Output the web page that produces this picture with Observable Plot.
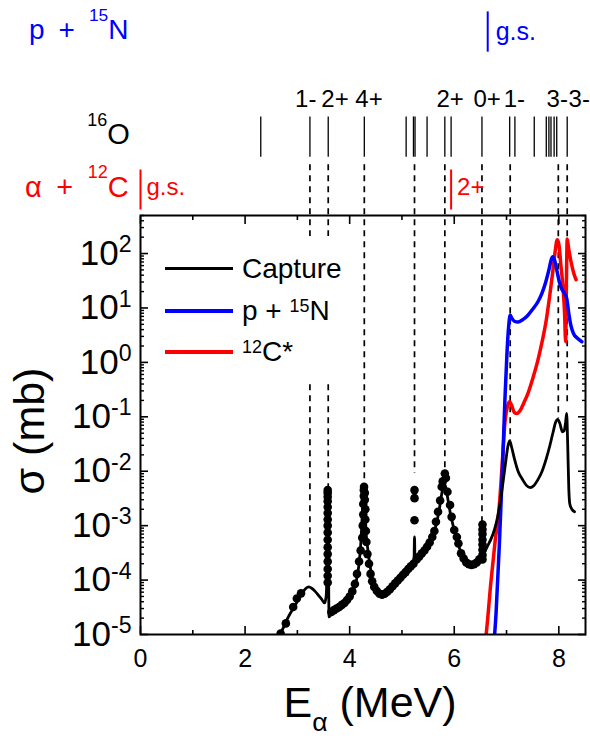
<!DOCTYPE html>
<html>
<head>
<meta charset="utf-8">
<script src="https://cdn.jsdelivr.net/npm/d3@7"></script>
<script src="https://cdn.jsdelivr.net/npm/@observablehq/plot@0.6"></script>
<style>
  body { margin: 0; background: #fff; }
  #wrap { position: relative; width: 590px; height: 751px; font-family: "Liberation Sans", Arial, Helvetica, sans-serif; }
  #wrap svg { display: block; }
  #legend { position: absolute; left: 150px; top: 236px; width: 190px; height: 148px; background: #fff; }
  #legend .sample { position: absolute; left: 15px; width: 68px; }
  #legend .lab { position: absolute; left: 92px; font-size: 28px; line-height: 28px; white-space: nowrap; color: #000; }
  #legend .sup { font-size: 0.64em; vertical-align: 0.42em; line-height: 0; }
</style>
</head>
<body>
<div id="wrap">
  <div id="legend">
    <div class="sample" style="top:31px;height:2.5px;background:#000"></div>
    <div class="lab" style="top:19px">Capture</div>
    <div class="sample" style="top:73px;height:3.5px;background:#0000ff"></div>
    <div class="lab" style="top:61px">p + <span class="sup">15</span>N</div>
    <div class="sample" style="top:114px;height:3.5px;background:#ff0000"></div>
    <div class="lab" style="top:102px"><span class="sup">12</span>C*</div>
  </div>
</div>
<script>
// ---------------- data ----------------
// E_alpha (MeV), sigma (mb)
const captureLine = [
  [2.60, 8e-6], [2.70, 1.15e-5], [2.78, 1.7e-5], [2.86, 2.4e-5], [2.94, 3.2e-5],
  [3.02, 4.4e-5], [3.08, 5.4e-5], [3.16, 7.0e-5], [3.22, 7.5e-5], [3.28, 7.0e-5],
  [3.34, 6.2e-5], [3.40, 5.3e-5], [3.46, 4.5e-5], [3.52, 3.8e-5], [3.55, 5e-5],
  [3.57, 3e-4], [3.58, 4.5e-3], [3.595, 3e-4], [3.605, 2.1e-5], [3.65, 2.4e-5],
  [3.72, 2.7e-5], [3.80, 3.1e-5], [3.88, 3.5e-5], [3.96, 4.2e-5], [4.02, 5e-5],
  [4.08, 7e-5], [4.13, 1.0e-4], [4.18, 2.0e-4], [4.22, 6e-4], [4.25, 2.5e-3],
  [4.27, 5.0e-3], [4.29, 3e-3], [4.31, 9e-4], [4.35, 3.5e-4], [4.40, 1.6e-4],
  [4.45, 9e-5], [4.52, 6.3e-5], [4.60, 5.3e-5], [4.70, 5.8e-5], [4.80, 7.5e-5],
  [4.90, 9.5e-5], [5.00, 1.2e-4], [5.10, 1.5e-4], [5.20, 1.9e-4], [5.23, 2.1e-4],
  [5.24, 6.2e-4], [5.25, 2.2e-4], [5.30, 2.4e-4], [5.40, 3.2e-4], [5.50, 4.5e-4],
  [5.58, 6.3e-4], [5.65, 1.0e-3], [5.71, 1.9e-3], [5.76, 3.8e-3], [5.80, 6.0e-3],
  [5.84, 5.0e-3], [5.88, 3.0e-3], [5.93, 1.6e-3], [6.00, 8.3e-4], [6.06, 5.2e-4],
  [6.12, 3.4e-4], [6.19, 2.4e-4], [6.26, 2.0e-4], [6.33, 1.9e-4], [6.40, 2.0e-4],
  [6.46, 2.3e-4], [6.52, 2.8e-4], [6.58, 3.3e-4], [6.64, 4.3e-4], [6.70, 5.6e-4],
  [6.77, 8.5e-4], [6.83, 1.45e-3], [6.88, 2.8e-3], [6.93, 6e-3], [6.98, 1.4e-2],
  [7.03, 3.0e-2], [7.06, 3.6e-2], [7.10, 2.7e-2], [7.15, 1.7e-2], [7.22, 1.0e-2],
  [7.30, 7.2e-3], [7.38, 5.5e-3], [7.45, 5.0e-3], [7.52, 5.4e-3], [7.60, 7.0e-3],
  [7.68, 1.0e-2], [7.76, 1.7e-2], [7.83, 3.0e-2], [7.89, 5.2e-2], [7.94, 8.0e-2],
  [7.98, 9.0e-2], [8.02, 7.5e-2], [8.07, 5.3e-2], [8.10, 5.5e-2], [8.13, 8e-2],
  [8.15, 1.15e-1], [8.17, 3e-2], [8.19, 5e-3], [8.21, 2.5e-3], [8.25, 2.0e-3],
  [8.30, 1.8e-3]
];
const captureData = [
  [2.68, 1.04e-5], [2.78, 1.6e-5], [2.92, 3.2e-5], [2.99, 4.6e-5], [3.07, 5.7e-5],
  [3.58, 9e-5], [3.58, 1.2e-4], [3.58, 1.6e-4], [3.58, 2.2e-4], [3.58, 3.0e-4],
  [3.58, 4.0e-4], [3.58, 5.5e-4], [3.58, 7.5e-4], [3.58, 1.0e-3], [3.58, 1.3e-3],
  [3.58, 1.7e-3], [3.58, 2.2e-3], [3.58, 2.8e-3], [3.58, 3.4e-3], [3.58, 4.0e-3],
  [3.58, 4.5e-3],
  [3.65, 2.6e-5], [3.70, 2.8e-5], [3.75, 3.0e-5], [3.80, 3.2e-5], [3.85, 3.5e-5],
  [3.90, 3.8e-5], [3.95, 4.3e-5], [4.00, 5.0e-5], [4.05, 6.2e-5], [4.10, 8.5e-5],
  [4.14, 1.3e-4], [4.18, 2.2e-4], [4.21, 3.5e-4],
  [4.24, 6e-4], [4.25, 1e-3], [4.26, 1.6e-3], [4.26, 2.5e-3], [4.27, 3.5e-3],
  [4.27, 4.5e-3], [4.275, 5.2e-3], [4.29, 4e-3], [4.29, 3e-3], [4.30, 2e-3],
  [4.30, 1.3e-3], [4.31, 8e-4], [4.32, 5e-4], [4.34, 3e-4],
  [4.37, 2e-4], [4.40, 1.3e-4], [4.43, 9.5e-5], [4.47, 7.5e-5], [4.52, 6.3e-5],
  [4.57, 5.6e-5], [4.62, 5.4e-5], [4.67, 5.6e-5], [4.72, 6.1e-5], [4.77, 6.8e-5],
  [4.82, 7.7e-5], [4.87, 8.7e-5], [4.92, 9.8e-5], [4.97, 1.1e-4], [5.02, 1.25e-4],
  [5.07, 1.4e-4], [5.12, 1.6e-4], [5.17, 1.8e-4], [5.22, 2.0e-4],
  [5.24, 4.5e-3], [5.24, 3.2e-3], [5.24, 1.26e-3],
  [5.28, 2.4e-4], [5.33, 2.7e-4], [5.38, 3.1e-4], [5.43, 3.5e-4], [5.48, 4.1e-4],
  [5.53, 4.9e-4], [5.58, 6.2e-4], [5.62, 8e-4], [5.65, 1.18e-3], [5.69, 1.8e-3],
  [5.73, 2.9e-3], [5.76, 5.2e-3], [5.78, 6.5e-3], [5.82, 9.1e-3], [5.84, 7.5e-3],
  [5.87, 4.2e-3], [5.92, 2.4e-3], [5.95, 1.45e-3], [6.00, 8.3e-4], [6.05, 6.2e-4],
  [6.08, 4.7e-4], [6.13, 3.1e-4], [6.18, 2.5e-4], [6.23, 2.1e-4], [6.28, 1.95e-4],
  [6.33, 1.9e-4], [6.38, 1.95e-4], [6.43, 2.1e-4], [6.48, 2.4e-4],
  [6.54, 1.05e-3], [6.54, 8.5e-4], [6.54, 7e-4], [6.54, 5.5e-4], [6.54, 4.5e-4],
  [6.54, 3.6e-4], [6.54, 2.9e-4], [6.54, 2.4e-4]
];
const protonLine = [
  [6.755, 6e-6], [6.80, 2.5e-5], [6.86, 4e-4], [6.92, 1.0e-2], [6.97, 0.22],
  [7.01, 1.6], [7.04, 4.5], [7.07, 7.4], [7.10, 6.5], [7.15, 5.7], [7.22, 5.5],
  [7.30, 6.0], [7.40, 7.2], [7.50, 9.5], [7.60, 13], [7.68, 19], [7.75, 30],
  [7.81, 50], [7.86, 80], [7.88, 87], [7.92, 75], [7.97, 45], [8.01, 30],
  [8.05, 23], [8.10, 19], [8.15, 15], [8.19, 8], [8.23, 4.8], [8.28, 3.4],
  [8.35, 2.8], [8.44, 2.4]
];
const carbonLine = [
  [6.59, 7e-6], [6.61, 1e-5], [6.70, 9e-5], [6.78, 5e-4], [6.86, 2.2e-3],
  [6.92, 1.5e-2], [6.97, 8e-2], [7.02, 0.16], [7.06, 0.19], [7.10, 0.16],
  [7.15, 0.12], [7.20, 0.115], [7.26, 0.13], [7.33, 0.18], [7.41, 0.27],
  [7.50, 0.5], [7.60, 1.1], [7.68, 2.4], [7.76, 6], [7.83, 18], [7.88, 43],
  [7.93, 110], [7.97, 180], [8.00, 150], [8.04, 60], [8.08, 24], [8.11, 8],
  [8.13, 2.4], [8.145, 30], [8.16, 185], [8.19, 120], [8.24, 66], [8.29, 42],
  [8.33, 33]
];
// 16O levels (as E_alpha)
const levels16O = [2.30, 3.24, 3.59, 4.28, 5.08, 5.22, 5.25, 5.48, 5.82, 5.94,
  6.53, 7.06, 7.16, 7.53, 7.76, 7.81, 7.85, 7.91, 7.96, 8.16];
const levelLabels = ["1-", "2+", "4+", "2+", "0+", "1-", "3-", "3-"];
const levelLabelE = [3.16, 3.72, 4.37, 5.92, 6.63, 7.15, 7.97, 8.39];
// resonances marked by dashed lines and where they end on the capture curve
const resonanceE = [3.24, 3.59, 4.28, 5.24, 5.82, 6.53, 7.07, 7.99, 8.16];
const resonanceTop = [1.0e-4, 4.5e-3, 5.8e-3, 9.2e-3, 1.12e-2, 1.11e-3, 3.7e-2, 9.4e-2, 0.153];
// thresholds
const alphaThresholdE = [0, 5.94];
const alphaThresholdLabel = ["g.s.", "2+"];
const protonThresholdE = [6.64];
const protonThresholdLabel = ["g.s."];
// axis ticks
const xMajor = [0, 2, 4, 6, 8];
const xMinor = [1, 3, 5, 7];
const yDecades = [1e-5, 1e-4, 1e-3, 1e-2, 1e-1, 1e0, 1e1, 1e2];
const yMinor = yDecades.flatMap(d => [2, 3, 4, 5, 6, 7, 8, 9].map(k => d * k)).filter(v => v <= 500);

// ---------------- level-scheme rows (log scale extended above the frame) ----------------
const row = {
  pTop: 10 ** 6.44, pBot: 10 ** 5.70, pText: 10 ** 6.10, pLab: 10 ** 6.07,
  oLab: 10 ** 4.84, oTop: 10 ** 4.51, oBot: 10 ** 3.77, oText: 10 ** 4.18,
  dashTop: 10 ** 3.63, aTop: 10 ** 3.535, aBot: 10 ** 2.80, aText: 10 ** 3.21
};

const font = '"Liberation Sans", Arial, Helvetica, sans-serif';
const sp = "\u2002";

const chart = Plot.plot({
  width: 590,
  height: 751,
  marginLeft: 140,
  marginRight: 5,
  marginTop: 215,
  marginBottom: 117,
  style: { fontFamily: font, background: "white", color: "black", overflow: "visible" },
  x: { domain: [0, 8.51] },
  y: { type: "log", domain: [1e-5, 500] },
  marks: [
    // dashed resonance lines
    Plot.ruleX(resonanceE, { x: d => d, y1: row.dashTop, y2: (d, i) => resonanceTop[i],
      stroke: "black", strokeWidth: 1.7, strokeDasharray: "6,5" }),
    // 16O levels
    Plot.ruleX(levels16O, { x: d => d, y1: row.oTop, y2: row.oBot, stroke: "black", strokeWidth: 1.3 }),
    // alpha + 12C thresholds
    Plot.ruleX(alphaThresholdE, { x: d => d, y1: row.aTop, y2: row.aBot, stroke: "red", strokeWidth: 2 }),
    Plot.text(alphaThresholdLabel, { x: (d, i) => alphaThresholdE[i], y: row.aText, text: d => d,
      dx: 6, textAnchor: "start", fill: "red", fontSize: 24 }),
    // p + 15N threshold
    Plot.ruleX(protonThresholdE, { x: d => d, y1: row.pTop, y2: row.pBot, stroke: "blue", strokeWidth: 2 }),
    Plot.text(protonThresholdLabel, { x: (d, i) => protonThresholdE[i], y: row.pLab, text: d => d,
      dx: 8, textAnchor: "start", fill: "blue", fontSize: 25 }),
    // level labels
    Plot.text(levelLabels, { x: (d, i) => levelLabelE[i], y: row.oLab, text: d => d,
      fontSize: 24, fill: "black" }),
    // channel labels
    Plot.text([`p${sp}+${sp}^^{15}N`], { x: -0.23, y: row.pText, text: d => d, textAnchor: "end", fill: "blue", fontSize: 28 }),
    Plot.text(["^^{16}O"], { x: -0.205, y: row.oText, text: d => d, textAnchor: "end", fill: "black", fontSize: 29 }),
    Plot.text([`\u03b1${sp}+${sp}^^{12}C`], { x: -0.225, y: row.aText, text: d => d, textAnchor: "end", fill: "red", fontSize: 29 }),
    // curves
    Plot.line(carbonLine, { x: d => d[0], y: d => d[1], stroke: "red", strokeWidth: 3.5, curve: "monotone-x", clip: true }),
    Plot.line(protonLine, { x: d => d[0], y: d => d[1], stroke: "blue", strokeWidth: 3.5, curve: "monotone-x", clip: true }),
    Plot.line(captureLine, { x: d => d[0], y: d => d[1], stroke: "black", strokeWidth: 2.8, curve: "monotone-x", clip: true }),
    Plot.dot(captureData, { x: d => d[0], y: d => d[1], r: 4.3, fill: "black", clip: true }),
    // frame & axes
    Plot.frame({ stroke: "black", strokeWidth: 2 }),
    Plot.axisX({ anchor: "bottom", ticks: xMajor, tickSize: -8, strokeWidth: 1.6, tickFormat: () => "", label: null }),
    Plot.axisX({ anchor: "bottom", ticks: xMinor, tickSize: -4, strokeWidth: 1.6, tickFormat: () => "", label: null }),
    Plot.axisX({ anchor: "top", ticks: xMajor, tickSize: -8, strokeWidth: 1.6, tickFormat: () => "", label: null }),
    Plot.axisX({ anchor: "top", ticks: xMinor, tickSize: -4, strokeWidth: 1.6, tickFormat: () => "", label: null }),
    Plot.axisX({ anchor: "bottom", ticks: xMajor, tickSize: 0, tickPadding: 15, fontSize: 25, label: null }),
    Plot.axisY({ anchor: "left", ticks: yDecades, tickSize: -8, strokeWidth: 1.6, tickFormat: () => "", label: null }),
    Plot.axisY({ anchor: "left", ticks: yMinor, tickSize: -4, strokeWidth: 1.4, tickFormat: () => "", label: null }),
    Plot.axisY({ anchor: "right", ticks: yDecades, tickSize: -8, strokeWidth: 1.6, tickFormat: () => "", label: null }),
    Plot.axisY({ anchor: "right", ticks: yMinor, tickSize: -4, strokeWidth: 1.4, tickFormat: () => "", label: null }),
    Plot.axisY({ anchor: "left", ticks: yDecades, tickSize: 0, tickPadding: 9, fontSize: 35, label: null,
      tickFormat: d => `10^{${Math.round(Math.log10(d))}}` }),
    // axis titles
    Plot.text(["E_{\u03b1} (MeV)"], { frameAnchor: "bottom", text: d => d, dy: 82, dx: 7, fontSize: 43, textAnchor: "middle" }),
    Plot.text(["\u03c3 (mb)"], { frameAnchor: "left", text: d => d, dx: -110, dy: 6, rotate: -90, fontSize: 43, textAnchor: "middle" })
  ]
});

const wrap = document.getElementById("wrap");
wrap.insertBefore(chart, wrap.firstChild);

// superscripts (^{..}, high ^^{..}) and subscripts (_{..}) inside SVG text
function richText(root) {
  const NS = "http://www.w3.org/2000/svg";
  root.querySelectorAll("text").forEach(t => {
    const s = t.textContent;
    if (!/(\^|_)\{/.test(s)) return;
    const fs = parseFloat(getComputedStyle(t).fontSize);
    const parts = s.split(/(\^\^\{[^}]*\}|\^\{[^}]*\}|_\{[^}]*\})/).filter(Boolean);
    while (t.firstChild) t.removeChild(t.firstChild);
    let cur = 0;
    for (const p of parts) {
      const ts = document.createElementNS(NS, "tspan");
      let off = 0, txt = p, scale = 1;
      if (p.startsWith("^^{")) { txt = p.slice(3, -1); off = -0.64 * fs; scale = 0.62; }
      else if (p.startsWith("^{")) { txt = p.slice(2, -1); off = -0.36 * fs; scale = 0.66; }
      else if (p.startsWith("_{")) { txt = p.slice(2, -1); off = 0.34 * fs; scale = 0.62; }
      if (scale !== 1) ts.setAttribute("font-size", (scale * fs).toFixed(1));
      if (off !== cur) ts.setAttribute("dy", (off - cur).toFixed(1));
      cur = off;
      ts.textContent = txt;
      t.appendChild(ts);
    }
  });
}
richText(chart);
</script>
</body>
</html>
